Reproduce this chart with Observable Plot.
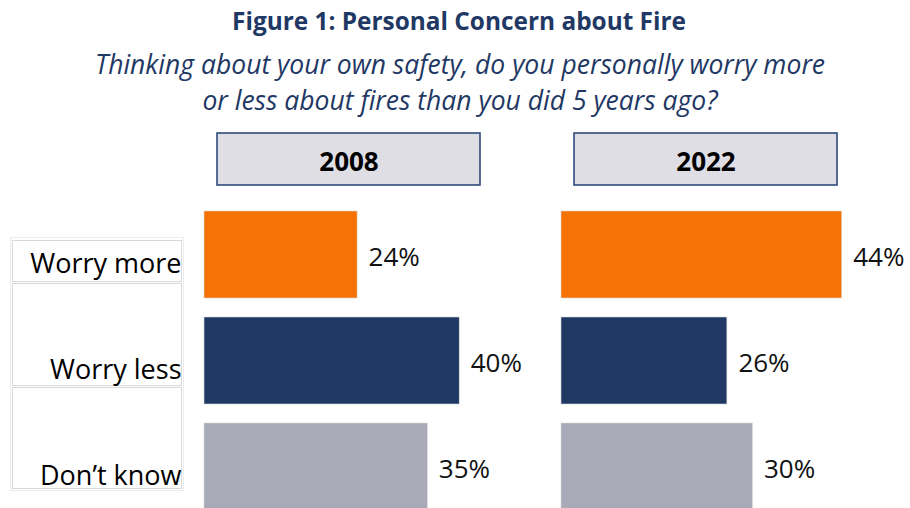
<!DOCTYPE html>
<html>
<head>
<meta charset="utf-8">
<script src="https://cdn.jsdelivr.net/npm/d3@7"></script>
<script src="https://cdn.jsdelivr.net/npm/@observablehq/plot@0.6"></script>
<style>
  html, body { margin: 0; padding: 0; background: #fff; }
  body { width: 910px; height: 508px; position: relative; overflow: hidden; font-family: "Open Sans", sans-serif; }
  #title { position: absolute; left: 0; width: 918px; top: 9px; text-align: center; font-weight: 700; font-size: 24.4px; line-height: 24px; color: #1F3864; }
  #subtitle { position: absolute; left: 0; width: 920px; top: 46px; text-align: center; font-style: italic; font-size: 26.5px; line-height: 36px; color: #1F3864; }
  .cellbox { position: absolute; border: 1px solid #d9d9d9; box-sizing: border-box; }
  #header { position: absolute; left: 0; top: 120px; }
  #bars { position: absolute; left: 0; top: 210px; }
</style>
</head>
<body>
<div id="title">Figure 1: Personal Concern about Fire</div>
<div id="subtitle">Thinking about your own safety, do you personally worry more<br>or less about fires than you did 5 years ago?</div>
<div class="cellbox" style="left:10px;top:237px;width:174px;height:254px;border-color:#ececec"></div>
<div class="cellbox" style="left:12px;top:240px;width:170px;height:42px;"></div>
<div class="cellbox" style="left:12px;top:283px;width:170px;height:103px;"></div>
<div class="cellbox" style="left:12px;top:387px;width:170px;height:102px;"></div>
<div id="header"></div>
<div id="bars"></div>
<script>
const categories = ["Worry more", "Worry less", "Don’t know"];
const years = ["2008", "2022"];
const values2008 = [24, 40, 35];
const values2022 = [44, 26, 30];
const colors = ["#F77204", "#1F3864", "#A9AAB7"];

const seriesByYear = [values2008, values2022];
const data = years.flatMap((year, i) =>
  categories.map((category, j) => ({year, category, value: seriesByYear[i][j]}))
);

const common = {
  width: 910,
  marginLeft: 203,
  marginRight: 29,
  x: {domain: [0, 50], axis: null},
  fx: {domain: years, paddingInner: 0.106, paddingOuter: 0, axis: null},
  style: {fontFamily: "'Open Sans', sans-serif", background: "transparent", overflow: "visible"}
};

const header = Plot.plot({
  ...common,
  height: 90,
  marginTop: 13,
  marginBottom: 25,
  marks: [
    Plot.rect(years, {fx: d => d, x1: () => 0, x2: () => 50, insetLeft: 13, insetRight: 43,
      fill: "#DEDEE4", stroke: "#2E4B7C", strokeWidth: 1.6}),
    Plot.text(years, {fx: d => d, text: d => d, frameAnchor: "middle", dx: -15, dy: 3,
      fontSize: 26, fontWeight: 700, fill: "#000"})
  ]
});
document.getElementById("header").append(header);

const bars = Plot.plot({
  ...common,
  height: 300,
  marginTop: 0,
  marginBottom: 0,
  y: {domain: categories, paddingInner: 0.18, paddingOuter: 0, axis: null},
  color: {domain: categories, range: colors},
  marks: [
    Plot.barX(data, {fx: "year", y: "category", x: "value", fill: "category",
      stroke: "#d8d8d8", strokeWidth: 0.6}),
    Plot.text(data, {fx: "year", y: "category", x: "value", text: d => d.value + "%",
      textAnchor: "start", dx: 11, dy: 2.5, fontSize: 26, fill: "#111"}),
    Plot.text(categories, {fx: () => years[0], y: d => d, x: () => 0, text: d => d,
      textAnchor: "end", dx: -23, dy: 9, fontSize: 27, fill: "#000"})
  ]
});
document.getElementById("bars").append(bars);
</script>
</body>
</html>
